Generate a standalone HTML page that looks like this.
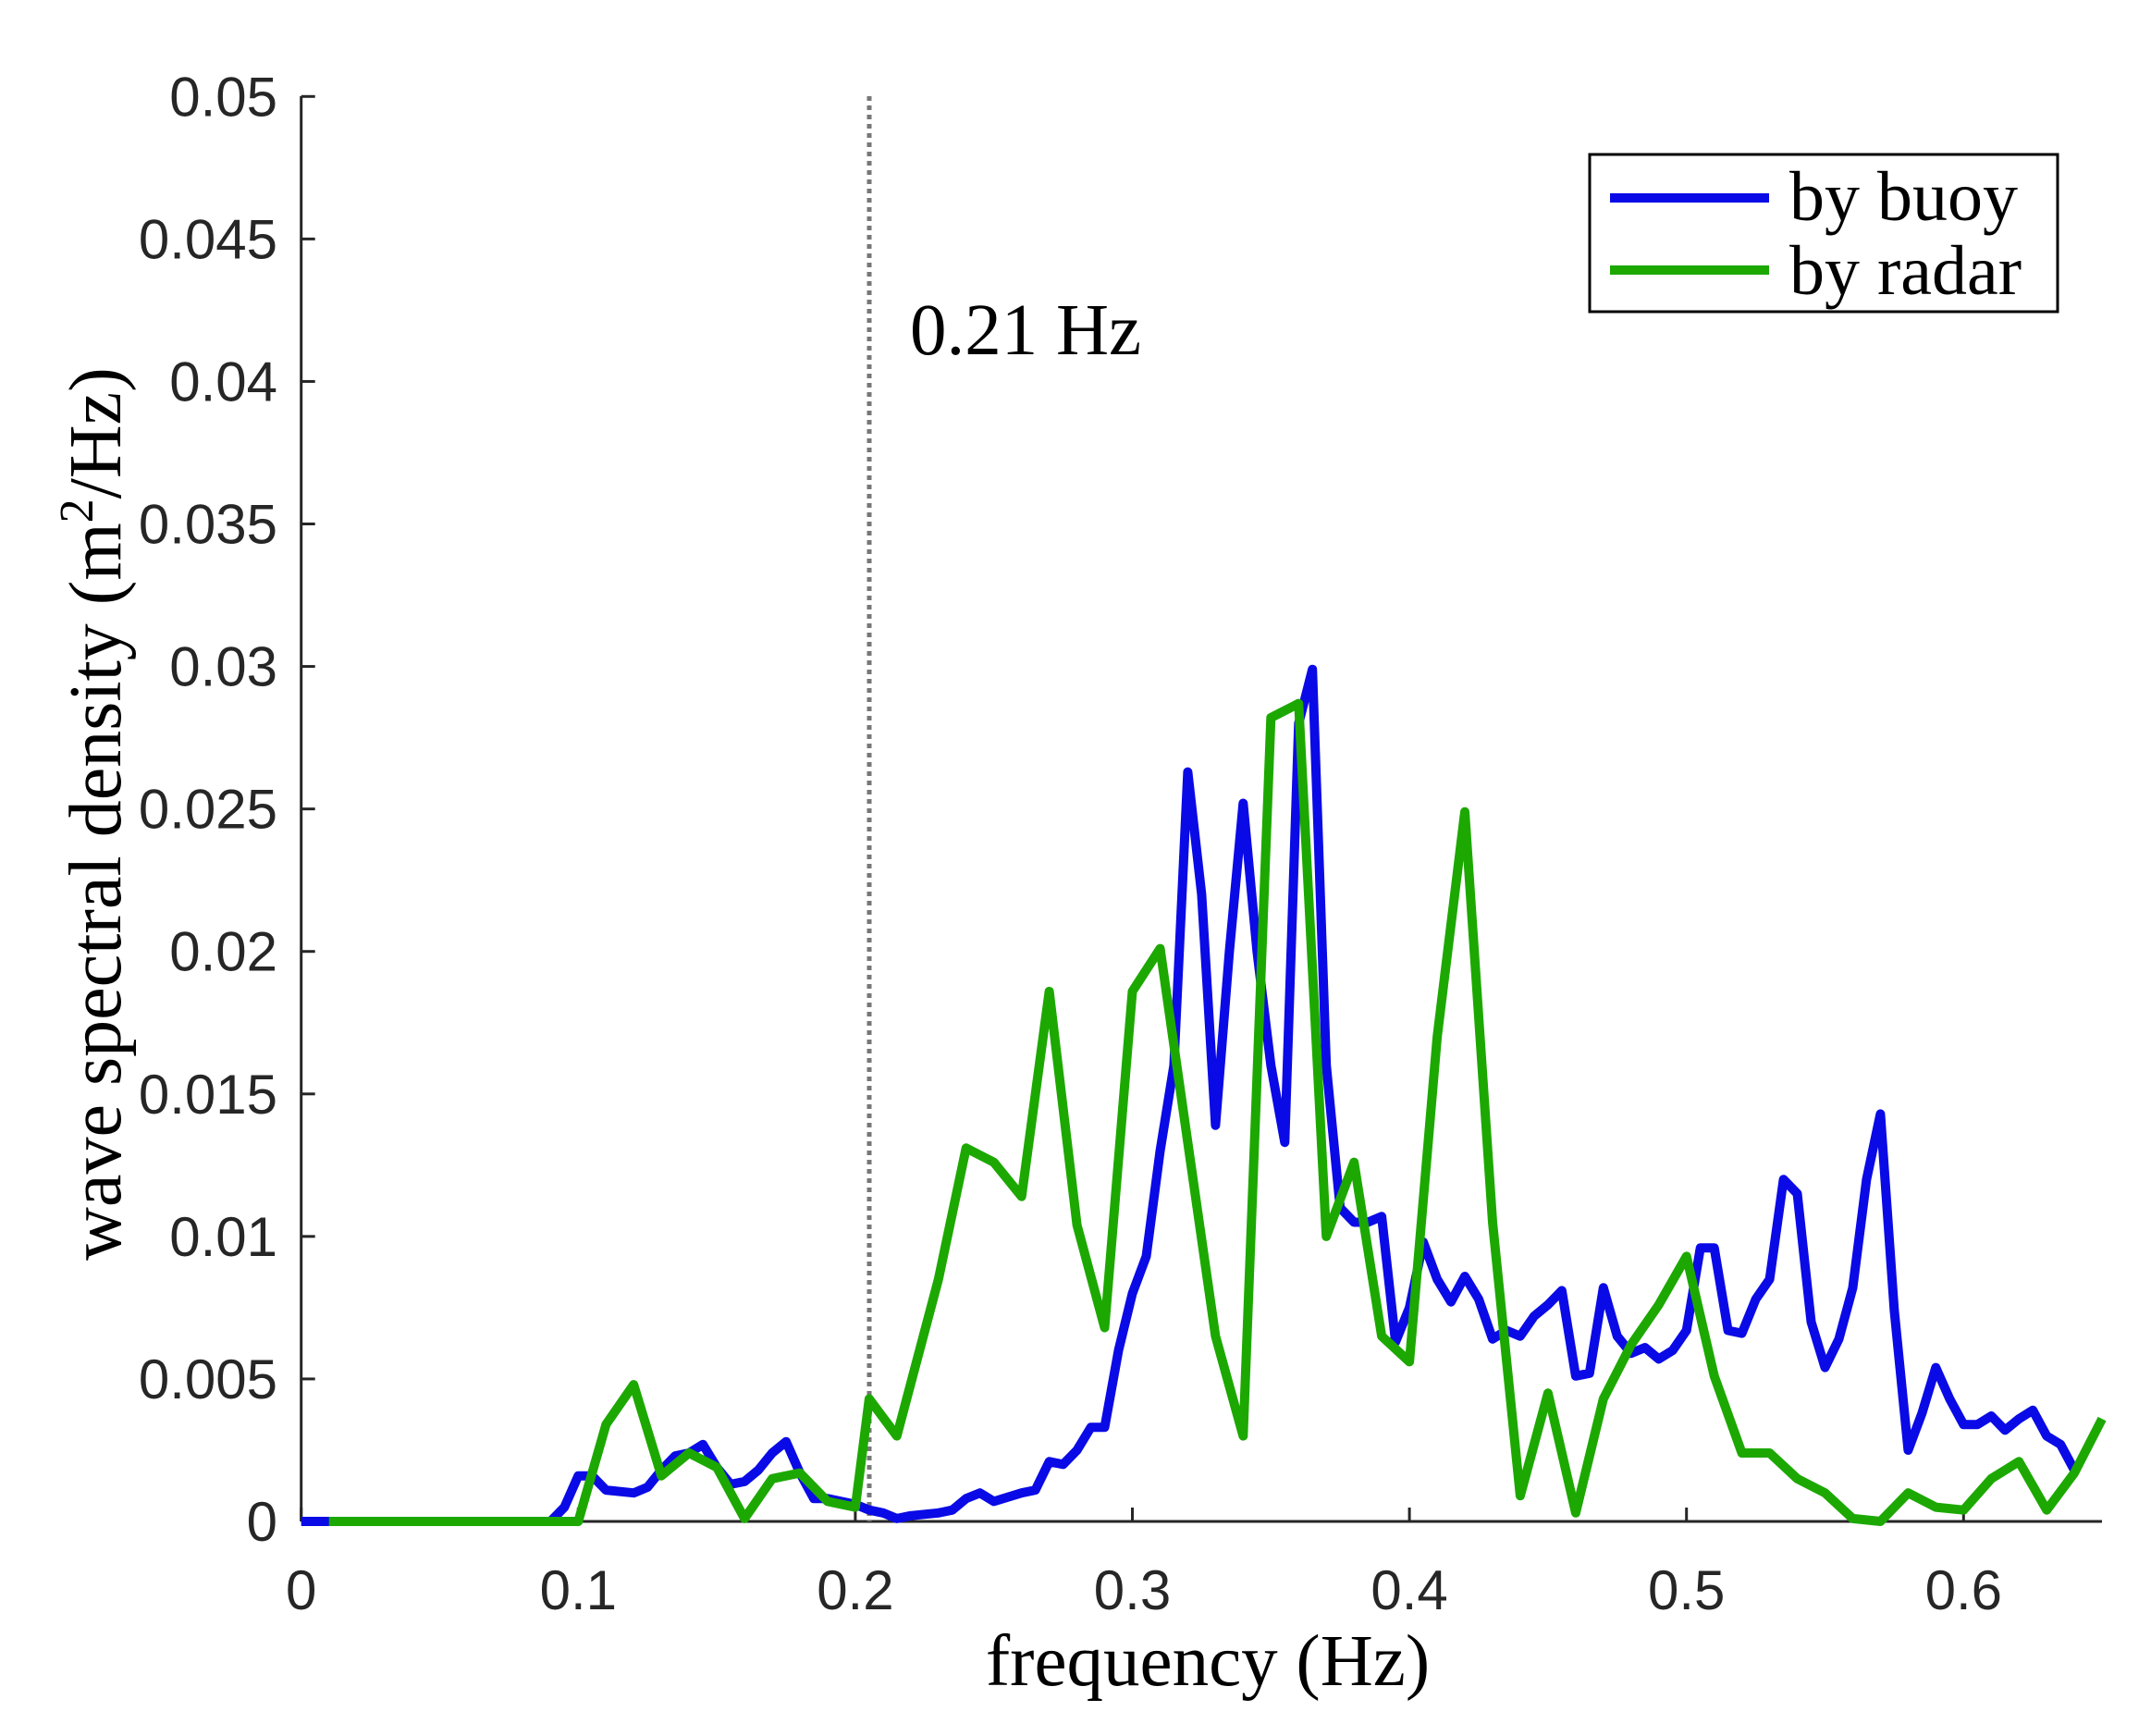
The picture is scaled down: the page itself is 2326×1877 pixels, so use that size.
<!DOCTYPE html>
<html><head><meta charset="utf-8"><style>
html,body{margin:0;padding:0;background:#fff;}
svg{display:block;}
.t{font-family:"Liberation Sans",sans-serif;font-size:60px;fill:#262626;}
.s{font-family:"Liberation Serif",serif;fill:#000;}
</style></head><body>
<svg id="c" width="2326" height="1877" viewBox="0 0 2326 1877" xmlns="http://www.w3.org/2000/svg">
<rect width="2326" height="1877" fill="#fff"/>
<g id="ticks" stroke="#262626" stroke-width="3"></g>
<line x1="940" y1="104" x2="940" y2="1645" stroke="#777" stroke-width="5" stroke-dasharray="5,5"/>
<path id="blue" fill="none" stroke="#0a0ae6" stroke-width="10" stroke-linejoin="round"/>
<path id="green" fill="none" stroke="#1ca800" stroke-width="10" stroke-linejoin="round"/>
<g id="labels"></g>
<text class="s" x="984" y="383" font-size="79">0.21 Hz</text>
<text class="s" x="1306" y="1822" font-size="79" text-anchor="middle">frequency (Hz)</text>
<text class="s" font-size="80" text-anchor="middle" transform="translate(130,880) rotate(-90)">wave spectral density (m<tspan dy="-30" font-size="52">2</tspan><tspan dy="30">/Hz)</tspan></text>
<rect x="1719" y="167" width="506" height="170" fill="#fff" stroke="#000" stroke-width="3"/>
<line x1="1741" y1="214" x2="1913" y2="214" stroke="#0a0ae6" stroke-width="10"/>
<line x1="1741" y1="292" x2="1913" y2="292" stroke="#1ca800" stroke-width="10"/>
<text class="s" x="1935" y="238" font-size="76">by buoy</text>
<text class="s" x="1935" y="318" font-size="76">by radar</text>
</svg>
<script>
var X0=325.7,XS=2996,Y0=1645,YS=30814;
function px(f){return X0+f*XS} function py(v){return Y0-v*YS}
var ns="http://www.w3.org/2000/svg";
var tk=document.getElementById('ticks'),lb=document.getElementById('labels');
function el(p,n,a,txt){var e=document.createElementNS(ns,n);for(var k in a)e.setAttribute(k,a[k]);if(txt!==undefined)e.textContent=txt;p.appendChild(e);}
el(tk,'line',{x1:X0,y1:104,x2:X0,y2:Y0});
el(tk,'line',{x1:X0,y1:Y0,x2:2273,y2:Y0});
for(var i=0;i<=10;i++){var v=i*0.005,y=py(v);el(tk,'line',{x1:X0,y1:y,x2:X0+15,y2:y});
 el(lb,'text',{'class':'t',x:300,y:y+21,'text-anchor':'end'},i==0?'0':(+v.toFixed(3)).toString());}
for(var i=0;i<=6;i++){var x=px(i*0.1);el(tk,'line',{x1:x,y1:Y0,x2:x,y2:Y0-15});
 el(lb,'text',{'class':'t',x:x,y:1740,'text-anchor':'middle'},i==0?'0':'0.'+i);}
var B=[[0,0],[0.01,0],[0.09,0],[0.095,0.0005],[0.1,0.0016],[0.105,0.0016],[0.11,0.0011],[0.12,0.001],[0.125,0.0012],[0.13,0.0018],[0.135,0.0023],[0.14,0.0024],[0.145,0.0027],[0.15,0.0019],[0.155,0.0013],[0.16,0.0014],[0.165,0.0018],[0.17,0.0024],[0.175,0.0028],[0.18,0.0017],[0.185,0.0008],[0.19,0.0008],[0.2,0.0006],[0.205,0.0004],[0.21,0.0003],[0.215,0.0001],[0.22,0.0002],[0.23,0.0003],[0.235,0.0004],[0.24,0.0008],[0.245,0.001],[0.25,0.0007],[0.26,0.001],[0.265,0.0011],[0.27,0.0021],[0.275,0.002],[0.28,0.0025],[0.285,0.0033],[0.29,0.0033],[0.295,0.006],[0.3,0.008],[0.305,0.0093],[0.31,0.013],[0.315,0.016],[0.32,0.0263],[0.325,0.022],[0.33,0.0139],[0.335,0.02],[0.34,0.0252],[0.345,0.02],[0.35,0.016],[0.355,0.0133],[0.36,0.028],[0.365,0.0299],[0.37,0.016],[0.375,0.011],[0.38,0.0105],[0.385,0.0105],[0.39,0.0107],[0.395,0.0063],[0.4,0.0075],[0.405,0.0098],[0.41,0.0085],[0.415,0.0077],[0.42,0.0086],[0.425,0.0078],[0.43,0.0064],[0.435,0.0067],[0.44,0.0065],[0.445,0.0072],[0.45,0.0076],[0.455,0.0081],[0.46,0.0051],[0.465,0.0052],[0.47,0.0082],[0.475,0.0065],[0.48,0.0059],[0.485,0.0061],[0.49,0.0057],[0.495,0.006],[0.5,0.0067],[0.505,0.0096],[0.51,0.0096],[0.515,0.0067],[0.52,0.0066],[0.525,0.0078],[0.53,0.0085],[0.535,0.012],[0.54,0.0115],[0.545,0.007],[0.55,0.0054],[0.555,0.0064],[0.56,0.0082],[0.565,0.012],[0.57,0.0143],[0.575,0.0074],[0.58,0.0025],[0.585,0.0038],[0.59,0.0054],[0.595,0.0043],[0.6,0.0034],[0.605,0.0034],[0.61,0.0037],[0.615,0.0032],[0.62,0.0036],[0.625,0.0039],[0.63,0.003],[0.635,0.0027],[0.64,0.0018]];
var G=[[0.01,0],[0.1,0],[0.11,0.0034],[0.12,0.0048],[0.13,0.0016],[0.14,0.0024],[0.15,0.0019],[0.16,0.0001],[0.17,0.0015],[0.18,0.0017],[0.19,0.0007],[0.2,0.0005],[0.205,0.0043],[0.215,0.003],[0.23,0.0085],[0.24,0.0131],[0.25,0.0126],[0.26,0.0114],[0.27,0.0186],[0.28,0.0104],[0.29,0.0068],[0.3,0.0186],[0.31,0.0201],[0.32,0.0133],[0.33,0.0065],[0.34,0.003],[0.35,0.0282],[0.36,0.0287],[0.37,0.01],[0.38,0.0126],[0.39,0.0065],[0.4,0.0056],[0.41,0.017],[0.42,0.0249],[0.43,0.0105],[0.44,0.0009],[0.45,0.0045],[0.46,0.0003],[0.47,0.0043],[0.48,0.0062],[0.49,0.0076],[0.5,0.0093],[0.51,0.0051],[0.52,0.0024],[0.53,0.0024],[0.54,0.0015],[0.55,0.001],[0.56,0.0001],[0.57,0],[0.58,0.001],[0.59,0.0005],[0.6,0.0004],[0.61,0.0015],[0.62,0.0021],[0.63,0.0004],[0.64,0.0017],[0.65,0.0036]];
function d(a){return a.map(function(p,i){return (i?'L':'M')+px(p[0]).toFixed(1)+' '+py(p[1]).toFixed(1)}).join(' ')}
document.getElementById('blue').setAttribute('d',d(B));
document.getElementById('green').setAttribute('d',d(G));
</script>
</body></html>
